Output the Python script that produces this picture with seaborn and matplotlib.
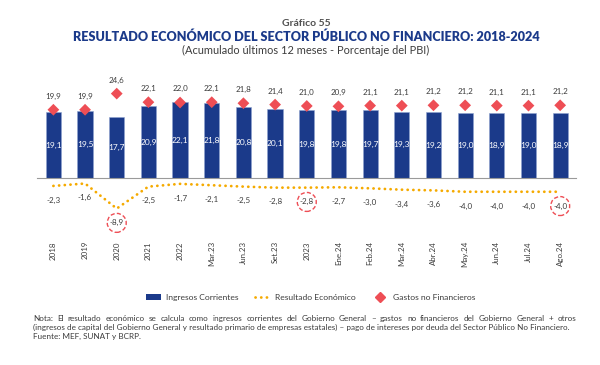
import numpy as np
import pandas as pd
import matplotlib
matplotlib.use("Agg")
import matplotlib.pyplot as plt
import matplotlib.transforms as mtransforms
from matplotlib.lines import Line2D
from matplotlib.patches import Patch
import seaborn as sns

# --- DATI ---
periodos = ["2018", "2019", "2020", "2021", "2022", "Mar.23", "Jun.23", "Set.23", "2023",
            "Ene.24", "Feb.24", "Mar.24", "Abr.24", "May.24", "Jun.24", "Jul.24", "Ago.24"]
ingresos = [19.1, 19.5, 17.7, 20.9, 22.1, 21.8, 20.8, 20.1, 19.8,
            19.8, 19.7, 19.3, 19.2, 19.0, 18.9, 19.0, 18.9]
gastos = [19.9, 19.9, 24.6, 22.1, 22.0, 22.1, 21.8, 21.4, 21.0,
          20.9, 21.1, 21.1, 21.2, 21.2, 21.1, 21.1, 21.2]
resultado = [-2.3, -1.6, -8.9, -2.5, -1.7, -2.1, -2.5, -2.8, -2.8,
             -2.7, -3.0, -3.4, -3.6, -4.0, -4.0, -4.0, -4.0]
destacados = ["2020", "2023", "Ago.24"]

# --- STILE ---
AZUL = "#1B3A8A"
ROJO = "#EE4E55"
NARANJA = "#F5AA00"
GRIS = "#3C3C3C"

sns.set_theme(style="white")
plt.rcParams['font.family'] = ['Lato', 'DejaVu Sans']

df = pd.DataFrame({"periodo": periodos, "ingresos": ingresos,
                   "gastos": gastos, "resultado": resultado})
df["pos"] = np.arange(len(df))


def fmt(v):
    return f"{v:.1f}".replace(".", ",")


fig = plt.figure(figsize=(6, 3.65), dpi=100)
ax = fig.add_axes([0.061, 0.375, 0.899, 0.455])

sns.barplot(data=df, x="pos", y="ingresos", color=AZUL, width=0.48,
            native_scale=True, ax=ax, saturation=1, edgecolor="#8FA3CF", linewidth=0.4)
sns.lineplot(data=df, x="pos", y="resultado", color=NARANJA, ax=ax,
             linestyle=(0, (0.05, 2.0)), linewidth=2.0)
ax.lines[-1].set_dash_capstyle("round")
sns.scatterplot(data=df, x="pos", y="gastos", marker="D", s=36, color=ROJO,
                edgecolor="none", ax=ax, zorder=4)

ax.set_xlim(-0.53, 16.47)
ax.set_ylim(-14.6, 33.8)

# etichette barre
for p, v in zip(df["pos"], df["ingresos"]):
    ax.text(p, v / 2, fmt(v), color="white", ha="center", va="center", fontsize=6.0)

# etichette gastos
for p, v in zip(df["pos"], df["gastos"]):
    ax.annotate(fmt(v), (p, v), xytext=(0, 9.8), textcoords="offset points",
                ha="center", va="center", fontsize=5.8, color=GRIS)

# etichette resultado
for p, v, per in zip(df["pos"], df["resultado"], df["periodo"]):
    kw = {}
    if per in destacados:
        kw["bbox"] = dict(boxstyle="circle,pad=0.3", fc="none", ec=ROJO,
                          ls=(0, (3, 1.6)), lw=1.0)
    ax.annotate(fmt(v), (p, v), xytext=(0, -10.3), textcoords="offset points",
                ha="center", va="center", fontsize=5.8, color=GRIS, **kw)

# asse
for s in ["top", "right", "left"]:
    ax.spines[s].set_visible(False)
ax.spines["bottom"].set_position(("data", 0))
ax.spines["bottom"].set_color("#9A9A9A")
ax.spines["bottom"].set_linewidth(0.8)
ax.set_yticks([])
ax.set_xticks(np.arange(-0.5, len(df), 1.0))
ax.tick_params(axis="x", direction="out", length=3, color="#9A9A9A", labelbottom=False)
ax.set_xlabel("")
ax.set_ylabel("")
if ax.legend_:
    ax.legend_.remove()

trans = mtransforms.blended_transform_factory(ax.transData, ax.transAxes)
for p, per in zip(df["pos"], df["periodo"]):
    ax.text(p, -0.078, per, transform=trans, rotation=90, ha="center", va="top",
            fontsize=5.7, color=GRIS)

# titoli
fig.text(0.51, 0.936, "Gráfico 55", ha="center", va="center", fontsize=7.5,
         color="#505050", fontweight="bold")
fig.text(0.51, 0.899, "RESULTADO ECONÓMICO DEL SECTOR PÚBLICO NO FINANCIERO: 2018-2024",
         ha="center", va="center", fontsize=9.1, color=AZUL, fontweight="heavy")
fig.text(0.51, 0.863, "(Acumulado últimos 12 meses - Porcentaje del PBI)",
         ha="center", va="center", fontsize=7.9, color=GRIS)

# legenda
handles = [Patch(facecolor=AZUL, edgecolor="none"),
           Line2D([], [], color=NARANJA, linestyle=(0, (0.05, 2.0)), lw=2.0,
                  dash_capstyle="round"),
           Line2D([], [], color=ROJO, marker="D", linestyle="none", markersize=5)]
fig.legend(handles, ["Ingresos Corrientes", "Resultado Económico", "Gastos no Financieros"],
           loc="center", bbox_to_anchor=(0.5175, 0.186), ncol=3, frameon=False,
           fontsize=6.1, handlelength=1.8, handleheight=0.7, columnspacing=1.9,
           handletextpad=0.6, labelcolor=GRIS)

# nota (prima riga giustificata)
nota = [
    "Nota: El resultado económico se calcula como ingresos corrientes del Gobierno General – "
    "gastos no financieros del Gobierno General + otros",
    "(ingresos de capital del Gobierno General y resultado primario de empresas estatales) – "
    "pago de intereses por deuda del Sector Público No Financiero.",
    "Fuente: MEF, SUNAT y BCRP.",
]
nota_y = [0.128, 0.103, 0.079]
x0, x1 = 33 / 600, 576 / 600
renderer = fig.canvas.get_renderer()
fw = fig.bbox.width
for i, (linea, y) in enumerate(zip(nota, nota_y)):
    if i == 0:
        palabras = linea.split(" ")
        textos = [fig.text(x0, y, w, ha="left", va="center", fontsize=5.9, color=GRIS)
                  for w in palabras]
        anchos = [t.get_window_extent(renderer).width / fw for t in textos]
        gap = (x1 - x0 - sum(anchos)) / (len(palabras) - 1)
        x = x0
        for t, a in zip(textos, anchos):
            t.set_x(x)
            x += a + gap
    else:
        fig.text(x0, y, linea, ha="left", va="center", fontsize=5.9, color=GRIS)

fig.savefig("out.png", dpi=100)
